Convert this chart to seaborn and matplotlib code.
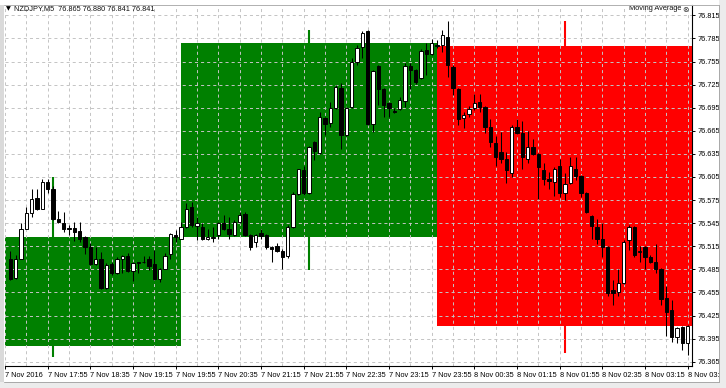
import numpy as np
import matplotlib
matplotlib.use("Agg")
import matplotlib.pyplot as plt
import seaborn as sns
from matplotlib.patches import Rectangle
from matplotlib.lines import Line2D

# ---------------- data (NZDJPY M5, bars 7 Nov 17:20 .. 8 Nov 03:55) ----------------
opens = [76.498, 76.474, 76.499, 76.538, 76.558, 76.578, 76.564, 76.599, 76.590, 76.550,
         76.545, 76.539, 76.539, 76.535, 76.527, 76.514, 76.492, 76.499, 76.461, 76.492,
         76.480, 76.499, 76.502, 76.483, 76.494, 76.494, 76.498, 76.492, 76.472, 76.486,
         76.505, 76.530, 76.525, 76.540, 76.566, 76.541, 76.540, 76.524, 76.526, 76.530,
         76.545, 76.538, 76.530, 76.546, 76.557, 76.530, 76.520, 76.532, 76.530, 76.514,
         76.515, 76.509, 76.502, 76.540, 76.583, 76.614, 76.584, 76.650, 76.636, 76.681,
         76.675, 76.694, 76.720, 76.660, 76.696, 76.755, 76.774, 76.795, 76.674, 76.749,
         76.719, 76.701, 76.691, 76.693, 76.704, 76.749, 76.744, 76.733, 76.770, 76.765,
         76.776, 76.777, 76.787, 76.748, 76.719, 76.681, 76.687, 76.694, 76.702, 76.696,
         76.670, 76.649, 76.638, 76.629, 76.610, 76.670, 76.662, 76.629, 76.644, 76.635,
         76.614, 76.602, 76.599, 76.619, 76.584, 76.597, 76.615, 76.606, 76.584, 76.554,
         76.540, 76.524, 76.514, 76.458, 76.455, 76.467, 76.523, 76.540, 76.507, 76.514,
         76.501, 76.495, 76.485, 76.448, 76.432, 76.397, 76.410, 76.389]

highs = [76.509, 76.504, 76.545, 76.566, 76.589, 76.590, 76.603, 76.603, 76.593, 76.561,
         76.560, 76.543, 76.546, 76.547, 76.528, 76.519, 76.514, 76.508, 76.493, 76.495,
         76.501, 76.504, 76.506, 76.495, 76.495, 76.502, 76.502, 76.510, 76.487, 76.506,
         76.532, 76.536, 76.547, 76.571, 76.572, 76.553, 76.545, 76.538, 76.540, 76.546,
         76.556, 76.553, 76.549, 76.559, 76.560, 76.531, 76.531, 76.538, 76.531, 76.515,
         76.519, 76.512, 76.543, 76.586, 76.616, 76.619, 76.645, 76.652, 76.690, 76.683,
         76.702, 76.724, 76.727, 76.696, 76.759, 76.776, 76.795, 76.796, 76.744, 76.750,
         76.721, 76.702, 76.695, 76.709, 76.753, 76.753, 76.745, 76.771, 76.779, 76.784,
         76.783, 76.796, 76.807, 76.750, 76.721, 76.690, 76.697, 76.713, 76.713, 76.697,
         76.680, 76.658, 76.664, 76.638, 76.673, 76.680, 76.678, 76.665, 76.654, 76.636,
         76.623, 76.612, 76.618, 76.628, 76.610, 76.631, 76.631, 76.608, 76.586, 76.556,
         76.551, 76.545, 76.515, 76.471, 76.485, 76.523, 76.543, 76.541, 76.515, 76.515,
         76.504, 76.518, 76.487, 76.463, 76.445, 76.410, 76.412, 76.413]

lows = [76.471, 76.473, 76.498, 76.537, 76.553, 76.562, 76.563, 76.584, 76.549, 76.545,
        76.534, 76.530, 76.522, 76.521, 76.505, 76.491, 76.491, 76.460, 76.460, 76.478,
        76.479, 76.480, 76.482, 76.470, 76.480, 76.493, 76.484, 76.471, 76.469, 76.485,
        76.498, 76.521, 76.524, 76.539, 76.540, 76.523, 76.523, 76.523, 76.520, 76.524,
        76.536, 76.525, 76.528, 76.545, 76.528, 76.510, 76.514, 76.525, 76.511, 76.494,
        76.508, 76.485, 76.500, 76.539, 76.582, 76.582, 76.583, 76.627, 76.635, 76.660,
        76.670, 76.693, 76.642, 76.658, 76.695, 76.750, 76.760, 76.673, 76.664, 76.699,
        76.683, 76.683, 76.688, 76.692, 76.696, 76.719, 76.726, 76.732, 76.737, 76.764,
        76.773, 76.768, 76.735, 76.712, 76.673, 76.668, 76.683, 76.692, 76.689, 76.662,
        76.644, 76.619, 76.623, 76.597, 76.605, 76.661, 76.616, 76.623, 76.634, 76.577,
        76.595, 76.589, 76.580, 76.579, 76.575, 76.596, 76.601, 76.579, 76.558, 76.524,
        76.518, 76.501, 76.450, 76.439, 76.450, 76.466, 76.510, 76.501, 76.494, 76.485,
        76.493, 76.480, 76.439, 76.399, 76.391, 76.389, 76.380, 76.374]

closes = [76.473, 76.499, 76.537, 76.558, 76.577, 76.564, 76.599, 76.589, 76.550, 76.546,
          76.538, 76.537, 76.534, 76.525, 76.514, 76.492, 76.499, 76.461, 76.491, 76.480,
          76.498, 76.502, 76.483, 76.493, 76.493, 76.495, 76.489, 76.472, 76.486, 76.502,
          76.531, 76.527, 76.540, 76.564, 76.543, 76.545, 76.524, 76.527, 76.527, 76.545,
          76.537, 76.531, 76.547, 76.556, 76.530, 76.514, 76.530, 76.528, 76.514, 76.511,
          76.509, 76.501, 76.540, 76.583, 76.615, 76.584, 76.644, 76.639, 76.683, 76.674,
          76.694, 76.722, 76.660, 76.694, 76.755, 76.773, 76.792, 76.674, 76.743, 76.719,
          76.699, 76.694, 76.690, 76.705, 76.749, 76.744, 76.729, 76.769, 76.765, 76.779,
          76.775, 76.789, 76.750, 76.720, 76.680, 76.685, 76.693, 76.701, 76.696, 76.670,
          76.650, 76.631, 76.629, 76.614, 76.670, 76.662, 76.631, 76.644, 76.635, 76.618,
          76.602, 76.600, 76.615, 76.584, 76.596, 76.619, 76.606, 76.584, 76.559, 76.541,
          76.524, 76.514, 76.454, 76.454, 76.467, 76.521, 76.540, 76.504, 76.509, 76.501,
          76.494, 76.485, 76.446, 76.429, 76.397, 76.409, 76.389, 76.412]

# H4 candles drawn as background blocks (start given in M5 bar units from 17:15)
h4_start = [-15, 33, 81]
h4_open = [76.385, 76.527, 76.775]
h4_high = [76.605, 76.796, 76.807]
h4_low = [76.371, 76.484, 76.377]
h4_close = [76.527, 76.779, 76.411]

x_labels = ["7 Nov 2016", "7 Nov 17:55", "7 Nov 18:35", "7 Nov 19:15", "7 Nov 19:55",
            "7 Nov 20:35", "7 Nov 21:15", "7 Nov 21:55", "7 Nov 22:35", "7 Nov 23:15",
            "7 Nov 23:55", "8 Nov 00:35", "8 Nov 01:15", "8 Nov 01:55", "8 Nov 02:35",
            "8 Nov 03:15", "8 Nov 03:55"]
y_ticks = [76.365, 76.395, 76.425, 76.455, 76.485, 76.515, 76.545, 76.575,
           76.605, 76.635, 76.665, 76.695, 76.725, 76.755, 76.785, 76.815]
header = "NZDJPY,M5  76.865 76.880 76.841 76.841"
indicator = "Moving Average"

# ---------------- style ----------------
sns.set_theme(style="white")
plt.rcParams['font.family'] = ['Liberation Sans Narrow', 'Liberation Sans', 'DejaVu Sans']
plt.rcParams['lines.scale_dashes'] = False

W, H = 726, 388
fig = plt.figure(figsize=(W / 100, H / 100), dpi=100, facecolor='white')
ax = fig.add_axes([5 / W, 22 / H, 687 / W, 361 / H])
ax.set_facecolor('white')
ax.set_xlim(0, 128.8)
ax.set_ylim(76.3595, 76.8284)

# H4 blocks
for s, o, h, l, c in zip(h4_start, h4_open, h4_high, h4_low, h4_close):
    col = '#008000' if c >= o else '#ff0000'
    ax.bar(s, abs(c - o), bottom=min(o, c), width=48, align='edge',
           color=col, linewidth=0, zorder=1)
    ax.vlines(s + 24, l, h, color=col, linewidth=1.5, zorder=1)

# grid
grid_kw = dict(color='#c4c4c4', linewidth=0.7, linestyle=(0, (2.2, 2.2)), zorder=2)
for i in range(0, 129, 4):
    ax.axvline(i, **grid_kw)
for t in y_ticks:
    ax.axhline(t, **grid_kw)

# candles
idx = np.arange(1, len(opens) + 1)
for i, o, h, l, c in zip(idx, opens, highs, lows, closes):
    hi = max(h, o, c)
    lo = min(l, o, c)
    ax.vlines(i, lo, hi, color='black', linewidth=0.75, zorder=3)
    bull = c >= o
    ax.bar(i, max(abs(c - o), 0.0007), bottom=min(o, c), width=0.6,
           color='white' if bull else 'black', edgecolor='black',
           linewidth=0.7, zorder=4)

# axes / ticks
ax.yaxis.tick_right()
ax.set_yticks(y_ticks)
ax.set_yticklabels([f"{v:.3f}" for v in y_ticks])
ax.set_xticks(list(range(0, 129, 8)))
ax.set_xticklabels(x_labels)
for lab in ax.get_xticklabels():
    lab.set_ha('left')
ax.tick_params(axis='y', right=True, left=False, direction='out', length=2.5,
               width=0.7, pad=1.2, labelsize=5.3, colors='black')
ax.tick_params(axis='x', bottom=True, direction='out', length=2.5, width=0.7,
               pad=1.5, labelsize=5.3, colors='black')
for side in ['left', 'top']:
    ax.spines[side].set_visible(False)
for side in ['right', 'bottom']:
    ax.spines[side].set_visible(True)
    ax.spines[side].set_color('black')
    ax.spines[side].set_linewidth(0.8)

# header texts
fig.text(5.5 / W, 1 - 8.5 / H, "▼", fontsize=4.5, va='center', ha='left',
         family=['DejaVu Sans'], color='black')
fig.text(14 / W, 1 - 8.5 / H, header, fontsize=5.3, va='center', ha='left', color='#101010')
fig.text(681 / W, 1 - 9 / H, indicator, fontsize=5.3, va='center', ha='right', color='#101010')
fig.text(682.5 / W, 1 - 9 / H, "⊗", fontsize=5.5, va='center', ha='left',
         family=['DejaVu Sans'], color='#303030')

# window frame
fig.patches.append(Rectangle((0, 6 / H), 4 / W, 1 - 11 / H, transform=fig.transFigure,
                             facecolor='#dadada', edgecolor='none', zorder=10))
fig.patches.append(Rectangle((719 / W, 0), 7 / W, 1, transform=fig.transFigure,
                             facecolor='#ececec', edgecolor='none', zorder=10))
fig.patches.append(Rectangle((0, 0), 1, 6 / H, transform=fig.transFigure,
                             facecolor='#ececec', edgecolor='none', zorder=10))
fig.lines.append(Line2D([4 / W, 719 / W], [1 - 4.5 / H, 1 - 4.5 / H], transform=fig.transFigure,
                        color='#b0b0b0', linewidth=0.7, zorder=11))
fig.lines.append(Line2D([719 / W, 719 / W], [6 / H, 1 - 4.5 / H], transform=fig.transFigure,
                        color='#a8a8a8', linewidth=0.7, zorder=11))
fig.lines.append(Line2D([4 / W, 719 / W], [6 / H, 6 / H], transform=fig.transFigure,
                        color='#a8a8a8', linewidth=0.7, zorder=11))

fig.savefig("out.png", dpi=100, facecolor='white')
